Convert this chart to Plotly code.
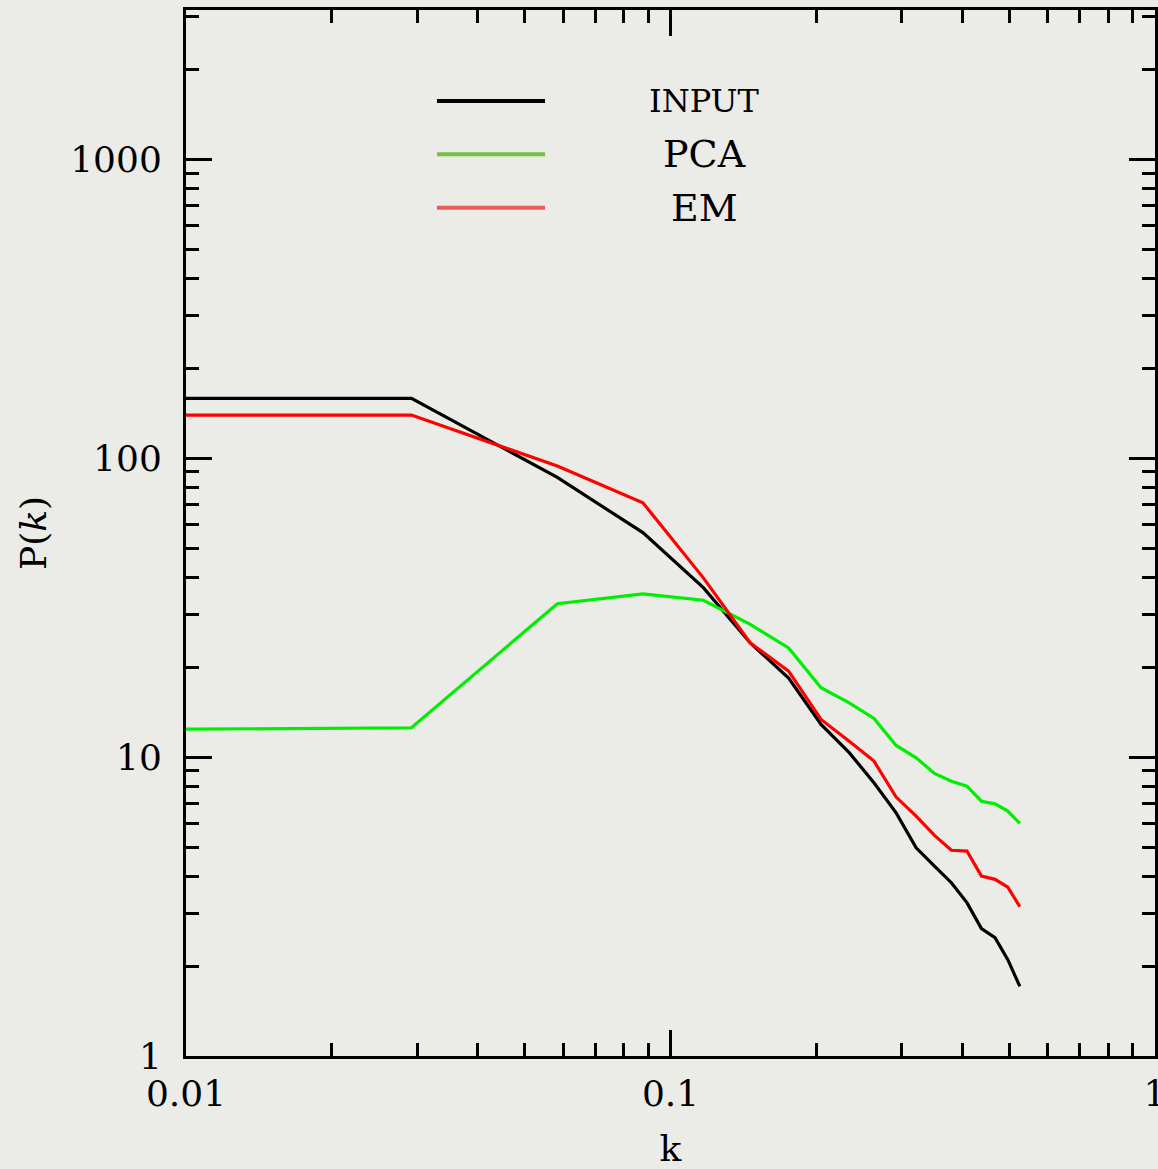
import plotly.graph_objects as go

# ---- data ----
k = [0.01, 0.0292, 0.0584, 0.0877, 0.1169, 0.1461, 0.1753, 0.2045, 0.2338, 0.263,
     0.2922, 0.3214, 0.3506, 0.3799, 0.4091, 0.4383, 0.4675, 0.4968, 0.526]
p_input = [158.7, 158.7, 86.3, 56.4, 36.9, 24.1, 18.4, 12.87, 10.35, 8.21,
           6.51, 4.97, 4.32, 3.80, 3.26, 2.67, 2.49, 2.10, 1.71]
p_pca = [12.4, 12.54, 32.6, 35.2, 33.5, 27.8, 23.2, 17.07, 15.2, 13.48,
         10.94, 9.95, 8.82, 8.31, 8.00, 7.12, 6.98, 6.60, 6.00]
p_em = [139.5, 139.5, 94.2, 71.0, 39.8, 24.1, 19.4, 13.37, 11.31, 9.70,
        7.35, 6.35, 5.47, 4.88, 4.85, 4.00, 3.90, 3.67, 3.16]

series_names = ["INPUT", "PCA", "EM"]
line_colors = ["#000000", "#00ee00", "#ff0000"]
legend_colors = ["#000000", "#72c23e", "#ee5a55"]

x_tickvals = [0.01, 0.1, 1]
x_ticktext = ["0.01", "0.1", "1"]
y_tickvals = [1, 10, 100, 1000]
y_ticktext = ["1", "10", "100", "1000"]

BG = "#ebebe7"
FONT = "DejaVu Serif"

fig = go.Figure()
for name, vals, col in zip(series_names, [p_input, p_pca, p_em], line_colors):
    fig.add_trace(go.Scatter(x=k, y=vals, mode="lines", name=name,
                             line=dict(color=col, width=3.2), showlegend=False))

x_minor = [m * 10 ** e for e in (-2, -1) for m in range(2, 10)]
y_minor = [m * 10 ** e for e in (0, 1, 2, 3) for m in range(2, 10)]

def minor(vals):
    return dict(tickmode="array", tickvals=vals, ticks="inside",
                ticklen=13, tickwidth=3, tickcolor="black", showgrid=False)

common = dict(showline=True, linecolor="black", linewidth=3, mirror="allticks",
              ticks="inside", ticklen=26, tickwidth=3, tickcolor="black",
              showgrid=False, zeroline=False, ticklabeloverflow="allow",
              tickfont=dict(family=FONT, size=36, color="black"))

fig.update_layout(
    xaxis=dict(type="log", range=[-2, 0], tickmode="array",
               tickvals=x_tickvals, ticktext=x_ticktext, ticklabelstandoff=4,
               minor=minor(x_minor),
               title=dict(text="k", font=dict(family=FONT, size=36, color="black"), standoff=35),
               **common),
    yaxis=dict(type="log", range=[0, 3.5], tickmode="array",
               tickvals=y_tickvals, ticktext=y_ticktext, ticklabelstandoff=14,
               minor=minor(y_minor),
               title=dict(text="P(<i>k</i>)", font=dict(family=FONT, size=36, color="black"), standoff=13),
               **common),
    yaxis2=dict(type="log", range=[0, 3.5], overlaying="y", side="right",
                tickmode="array", tickvals=y_tickvals, showticklabels=False,
                ticks="inside", ticklen=26, tickwidth=3, tickcolor="black",
                showline=False, showgrid=False, zeroline=False,
                minor=minor(y_minor)),
    xaxis2=dict(type="log", range=[-2, 0], overlaying="x", side="top",
                tickmode="array", tickvals=x_tickvals, showticklabels=False,
                ticks="inside", ticklen=26, tickwidth=3, tickcolor="black",
                showline=False, showgrid=False, zeroline=False,
                minor=minor(x_minor)),
)
# invisible helper trace so the mirror axes are drawn
fig.add_trace(go.Scatter(x=[k[0]], y=[p_input[0]], xaxis="x2", yaxis="y2",
                         mode="markers", marker=dict(opacity=0), showlegend=False,
                         hoverinfo="skip"))

# legend drawn as lines + labels
leg_y = [0.913, 0.862, 0.811]
leg_sizes = [32, 38, 38]
for name, col, yy, fs in zip(series_names, legend_colors, leg_y, leg_sizes):
    fig.add_shape(type="line", xref="paper", yref="paper", x0=0.259, x1=0.3705,
                  y0=yy, y1=yy, line=dict(color=col, width=4))
    fig.add_annotation(xref="paper", yref="paper", x=0.5356, y=yy, text=name,
                       showarrow=False, xanchor="center", yanchor="middle",
                       font=dict(family=FONT, size=fs, color="black"))

fig.update_layout(width=1158, height=1169,
                  margin=dict(l=186, r=3, t=10, b=113, autoexpand=False),
                  paper_bgcolor=BG, plot_bgcolor=BG)

post = ("document.body.style.margin='0';document.body.style.padding='0';"
        "document.body.style.overflow='hidden';document.body.style.background='%s';" % BG)
fig.write_html("out.html", post_script=post, config={"displayModeBar": False})
